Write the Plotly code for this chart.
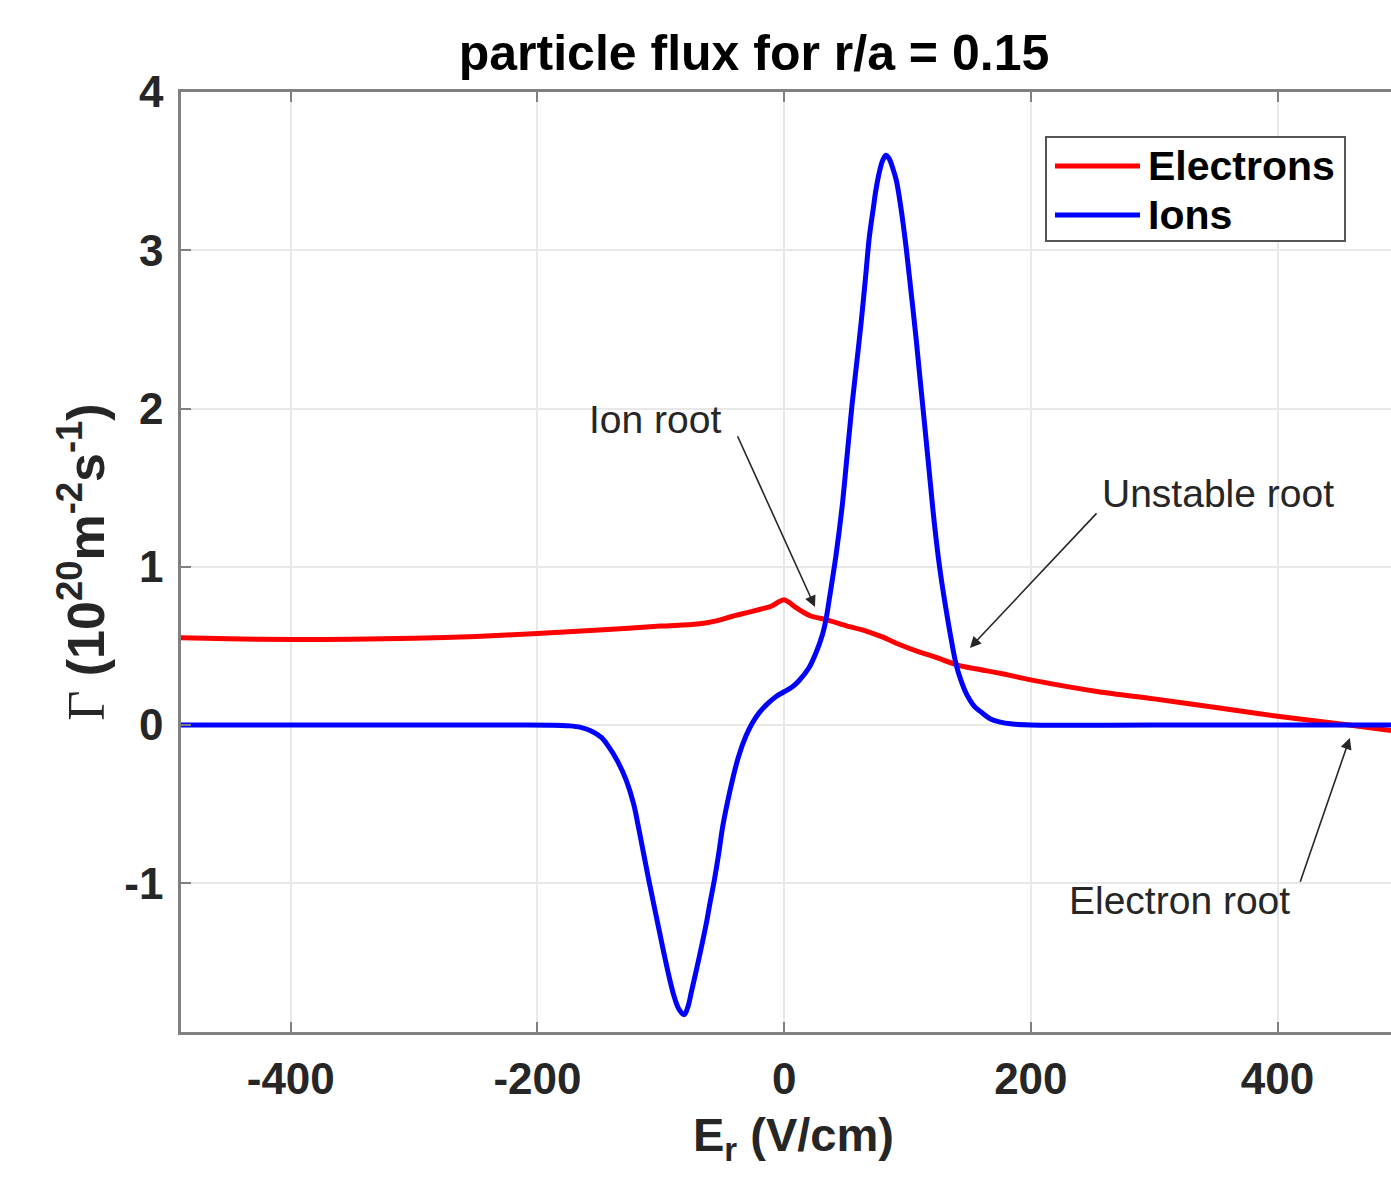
import plotly.graph_objects as go

# ---------------- data ----------------
er_ions = [-489, -400, -300, -220, -190, -175, -165, -156, -148, -142, -135, -128, -122,
           -118, -114, -110, -105, -101, -97, -93, -89, -85, -81, -78, -75, -71.5, -67,
           -63, -60, -56.6, -53, -50, -46, -42, -37, -31, -26, -20, -14, -6.5, 0, 6.5,
           12, 20, 26, 31, 34, 36.5, 42, 47, 51, 55, 59, 62.5, 66, 69, 72, 74.6, 78, 80,
           82.5, 85, 88, 91, 95, 99, 103, 107, 110, 113.6, 118, 121.7, 126, 130, 135,
           139.5, 143, 147.6, 154, 160.6, 167, 174.4, 185, 200, 300, 400, 492]
gamma_ions = [0, 0, 0, 0, -0.001, -0.005, -0.015, -0.04, -0.08, -0.14, -0.23, -0.35, -0.50,
              -0.65, -0.81, -0.97, -1.16, -1.31, -1.46, -1.60, -1.72, -1.80, -1.83, -1.78, -1.68,
              -1.56, -1.40, -1.25, -1.12, -0.98, -0.81, -0.65, -0.49, -0.35, -0.20, -0.07, 0.01,
              0.08, 0.13, 0.18, 0.21, 0.24, 0.28, 0.36, 0.46, 0.57, 0.67, 0.79, 1.07, 1.38,
              1.70, 2.02, 2.30, 2.55, 2.83, 3.08, 3.25, 3.39, 3.52, 3.57, 3.60, 3.58, 3.52,
              3.44, 3.25, 3.01, 2.73, 2.44, 2.20, 1.92, 1.57, 1.28, 1.00, 0.79, 0.56, 0.38,
              0.29, 0.20, 0.12, 0.076, 0.04, 0.02, 0.006, 0.0, 0.0, 0.0, 0.0]

er_electrons = [-489, -450, -400, -350, -300, -250, -200, -150, -100, -70, -55, -42, -30,
                -20, -10, -4, 0, 4, 10, 21, 34, 50, 67, 80, 94, 107, 121, 140, 155, 175,
                200, 255, 300, 350, 400, 458, 492]
gamma_electrons = [0.552, 0.545, 0.540, 0.542, 0.548, 0.560, 0.578, 0.600, 0.625, 0.638,
                   0.658, 0.687, 0.710, 0.730, 0.752, 0.780, 0.792, 0.775, 0.740, 0.690,
                   0.666, 0.628, 0.592, 0.555, 0.507, 0.468, 0.433, 0.380, 0.355, 0.327,
                   0.285, 0.210, 0.165, 0.110, 0.055, 0.0, -0.035]

series_names = ["Electrons", "Ions"]
series_colors = ["#ff0000", "#0000ff"]

x_tick_vals = [-400, -200, 0, 200, 400]
x_tick_text = ["-400", "-200", "0", "200", "400"]
y_tick_vals = [-1, 0, 1, 2, 3, 4]
y_tick_text = ["-1", "0", "1", "2", "3", "4"]

root_labels = ["Ion root", "Unstable root", "Electron root"]
root_label_x = [-104.7, 351.6, 320.8]
root_label_y = [1.93, 1.46, -1.107]
arrow_tail_x = [-38.3, 254.4, 418.0]
arrow_tail_y = [1.834, 1.347, -1.0]
arrow_head_x = [25.0, 150.6, 458.6]
arrow_head_y = [0.746, 0.487, -0.082]

title_text = "particle flux for r/a = 0.15"
x_label = "E<sub>r</sub> (V/cm)"
y_label = ('<span style="font-family:\'Liberation Serif\', serif">Γ</span> '
           '<b>(10<sup>20</sup>m<sup>-2</sup>s<sup>-1</sup>)</b>')

# ---------------- figure ----------------
FONT = "Liberation Sans, Arial, Helvetica, sans-serif"
TXT = "#262626"

fig = go.Figure()
fig.add_trace(go.Scatter(x=er_electrons, y=gamma_electrons, mode="lines",
                         name=series_names[0], showlegend=False,
                         line=dict(color=series_colors[0], width=5, shape="spline", smoothing=0.8)))
fig.add_trace(go.Scatter(x=er_ions, y=gamma_ions, mode="lines",
                         name=series_names[1], showlegend=False,
                         line=dict(color=series_colors[1], width=5, shape="spline", smoothing=1.0)))

annotations = []
# root labels and arrows
for lab, lx, ly in zip(root_labels, root_label_x, root_label_y):
    annotations.append(dict(x=lx, y=ly, xref="x", yref="y", text=lab, showarrow=False,
                            font=dict(family=FONT, size=39, color=TXT),
                            xanchor="center", yanchor="middle"))
for tx, ty, hx, hy in zip(arrow_tail_x, arrow_tail_y, arrow_head_x, arrow_head_y):
    annotations.append(dict(x=hx, y=hy, xref="x", yref="y", ax=tx, ay=ty,
                            axref="x", ayref="y", text="", showarrow=True,
                            arrowhead=2, arrowsize=1.4, arrowwidth=1.6,
                            arrowcolor=TXT, standoff=0, startstandoff=0))

# axis labels
annotations.append(dict(x=0.5066, y=-0.113, xref="paper", yref="paper", text="<b>" + x_label + "</b>",
                        showarrow=False, font=dict(family=FONT, size=47, color=TXT),
                        xanchor="center", yanchor="middle"))
annotations.append(dict(x=-0.082, y=0.5, xref="paper", yref="paper", text=y_label,
                        showarrow=False, textangle=-90, font=dict(family=FONT, size=52, color=TXT),
                        xanchor="center", yanchor="middle"))

# legend (drawn manually so the line samples match the reference length)
L = 181.0
W = 1210.0
T = 92.0
H = 940.0


def px_x(p):
    return (p - L) / W


def px_y(p):
    return (T + H - p) / H


shapes = [dict(type="rect", xref="paper", yref="paper",
               x0=px_x(1046), x1=px_x(1345), y0=px_y(241), y1=px_y(137),
               line=dict(color="#555555", width=2), fillcolor="white", layer="above")]
legend_rows = [166, 215]
for name, col, row in zip(series_names, series_colors, legend_rows):
    shapes.append(dict(type="line", xref="paper", yref="paper",
                       x0=px_x(1055), x1=px_x(1140), y0=px_y(row), y1=px_y(row),
                       line=dict(color=col, width=5), layer="above"))
    annotations.append(dict(x=px_x(1146), y=px_y(row), xref="paper", yref="paper",
                            text="<b>" + name + "</b>", showarrow=False,
                            font=dict(family=FONT, size=41, color="#000000"),
                            xanchor="left", yanchor="middle"))

fig.update_layout(
    width=1391, height=1177,
    margin=dict(l=181, r=0, t=92, b=145),
    paper_bgcolor="white", plot_bgcolor="white",
    title=dict(text="<b>" + title_text + "</b>", x=754 / 1391, xref="container", xanchor="center",
               y=1 - 52 / 1177, yref="container", yanchor="middle",
               font=dict(family=FONT, size=50, color="#000000")),
    annotations=annotations,
    shapes=shapes,
    showlegend=False,
)
fig.update_xaxes(range=[-489, 492], tickvals=x_tick_vals, ticktext=x_tick_text,
                 showgrid=True, gridcolor="#e8e8e8", gridwidth=1.5, zeroline=False,
                 showline=True, linecolor="#808080", linewidth=2.5, mirror="ticks",
                 ticks="inside", ticklen=10, tickwidth=2, tickcolor="#808080",
                 tickfont=dict(family=FONT, size=44, color=TXT, weight="bold"),
                 ticklabelstandoff=6)
fig.update_yaxes(range=[-1.94, 4.0], tickvals=y_tick_vals, ticktext=y_tick_text,
                 showgrid=True, gridcolor="#e8e8e8", gridwidth=1.5, zeroline=False,
                 showline=True, linecolor="#808080", linewidth=2.5,
                 ticks="inside", ticklen=10, tickwidth=2, tickcolor="#808080",
                 tickfont=dict(family=FONT, size=44, color=TXT, weight="bold"),
                 ticklabelstandoff=6)

fig.write_html("out.html")
